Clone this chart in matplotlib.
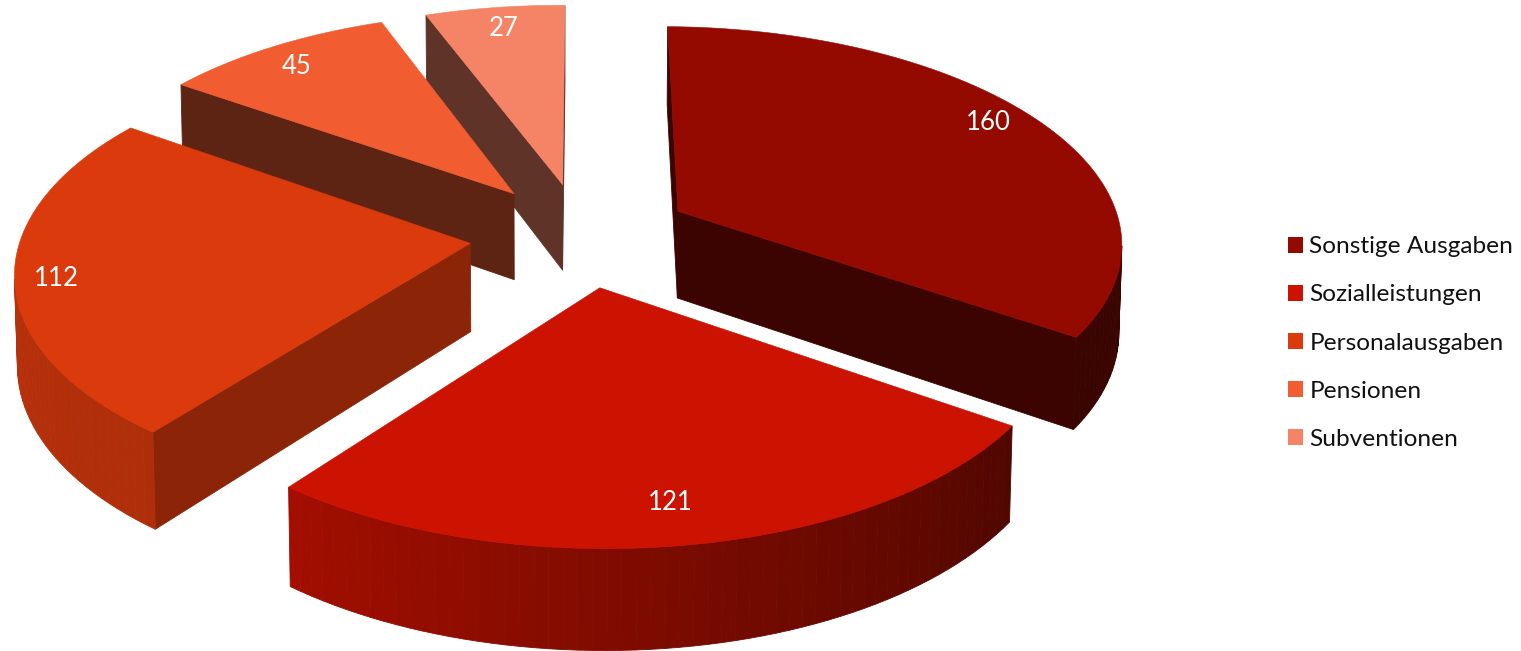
import numpy as np
import matplotlib
matplotlib.use("Agg")
import matplotlib.pyplot as plt
from matplotlib.patches import Polygon, Patch

# Ausgaben nach Kategorie
categories = ["Sonstige Ausgaben", "Sozialleistungen", "Personalausgaben", "Pensionen", "Subventionen"]
values = [160, 121, 112, 45, 27]

top_colors = ["#940A00", "#CC1200", "#DA3A0C", "#F15C31", "#F48465"]
flat_wall_shade = [0.40, 0.40, 0.64, 0.39, 0.39]
explode = [0.247, 0.241, 0.252, 0.252, 0.248]
label_xy = [(988, 123), (670, 503), (56, 278), (297, 66), (504, 29)]

# Camera matrix taking pie coordinates (x, y, z) to figure pixels
CAMERA = np.array([
    [447.732, 73.498, -3.00866, 582.038],
    [2.74377, -184.098, -89.5491, 235.31],
    [0.00200759, 0.125716, -0.00537772, 1.0],
])
W, H = 1521, 651


def project(x, y, z):
    x = np.asarray(x, float)
    y = np.asarray(y, float)
    z = np.full_like(x, z)
    u = CAMERA @ np.stack([x, y, z, np.ones_like(x)])
    return np.column_stack([u[0] / u[2], u[1] / u[2]])


def shade(color, factor):
    rgb = np.array(matplotlib.colors.to_rgb(color))
    return tuple(rgb * factor)


def signed_area(pts):
    x, y = pts[:, 0], pts[:, 1]
    return 0.5 * np.sum(x * np.roll(y, -1) - np.roll(x, -1) * y)


def rim_shade(deg):
    return np.interp(deg, [0, 90, 124, 218, 304, 360], [0.5, 0.40, 0.39, 0.80, 0.88, 0.9])


fig = plt.figure(figsize=(W / 100, H / 100), dpi=100)
ax = fig.add_axes([0, 0, 1, 1])
ax.set_xlim(0, W)
ax.set_ylim(H, 0)
ax.axis("off")

edges = np.r_[0, np.cumsum(values)] / np.sum(values) * 2 * np.pi

# Back slices first so the nearer ones cover them
for i in [4, 3, 0, 2, 1]:
    mid = (edges[i] + edges[i + 1]) / 2
    ax0, ay0 = explode[i] * np.sin(mid), explode[i] * np.cos(mid)
    t = np.linspace(edges[i], edges[i + 1], max(12, int(values[i] / 2)))
    xs = np.r_[ax0, ax0 + np.sin(t)]
    ys = np.r_[ay0, ay0 + np.cos(t)]
    top = project(xs, ys, 0.0)
    bottom = project(xs, ys, -1.0)
    orient = signed_area(top)
    n = len(top)
    for k in range(n):
        j = (k + 1) % n
        quad = np.array([top[k], top[j], bottom[j], bottom[k]])
        if signed_area(quad) * orient >= 0:
            continue
        if k == 0 or j == 0:
            factor = flat_wall_shade[i]
        else:
            factor = rim_shade(np.degrees((t[k - 1] + t[j - 1]) / 2))
        c = shade(top_colors[i], factor)
        ax.add_patch(Polygon(quad, closed=True, facecolor=c, edgecolor=c, linewidth=0.6))
    ax.add_patch(Polygon(top, closed=True, facecolor=top_colors[i], edgecolor=top_colors[i], linewidth=0.4))

for v, (x, y) in zip(values, label_xy):
    ax.text(x, y, str(v), color="white", fontsize=18.5, family="Lato", ha="center", va="center")

handles = [Patch(facecolor=c, edgecolor="none") for c in top_colors]
ax.legend(handles, categories, loc="center left",
          bbox_to_anchor=(1280 / W, 1 - 343 / H), frameon=False,
          prop={"family": "Lato", "size": 17.6}, handlelength=0.62, handleheight=0.62,
          handletextpad=0.25, labelspacing=1.11, borderpad=0, borderaxespad=0.33, labelcolor="#111111")

fig.savefig("out.png", dpi=100, facecolor="white")
